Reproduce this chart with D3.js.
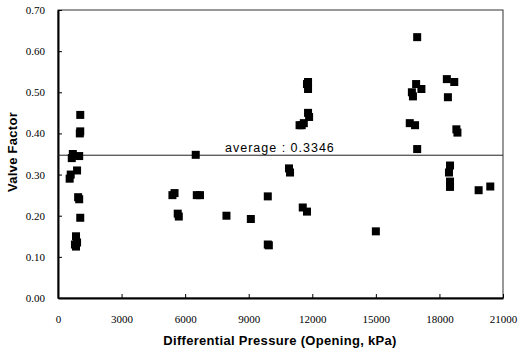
<!DOCTYPE html>
<html>
<head>
<meta charset="utf-8">
<script src="https://cdn.jsdelivr.net/npm/d3@7"></script>
<style>
  body { margin: 0; background: #fff; }
  svg { display: block; }
</style>
</head>
<body>
<div id="chart"></div>
<script>
// differential pressure (kPa) and valve factor
const pressure = [
    1050, 1050, 1030, 700, 650, 1000, 600, 550, 900, 950, 1000, 1050, 850, 900, 850, 800,
    5400, 5500, 5650, 5700, 6500, 6550, 6700, 7950, 9100, 9900, 9900, 9950,
    10900, 10950, 11500, 11600, 11400, 11550, 11750, 11800, 11850, 11800, 11750, 11800,
    15000,
    16600, 16850, 16950, 16700, 16750, 16900, 17150, 16950,
    18350, 18700, 18400, 18800, 18850, 18500, 18450, 18500, 18500, 19850, 20400
]
const valveFactor = [
    0.445, 0.405, 0.40, 0.35, 0.34, 0.345, 0.30, 0.29, 0.31, 0.245, 0.24, 0.195, 0.15, 0.135, 0.125, 0.13,
    0.25, 0.255, 0.205, 0.198, 0.348, 0.25, 0.25, 0.20, 0.192, 0.247, 0.13, 0.128,
    0.315, 0.305, 0.42, 0.425, 0.42, 0.22, 0.21, 0.45, 0.44, 0.525, 0.52, 0.508,
    0.162,
    0.425, 0.42, 0.634, 0.50, 0.49, 0.52, 0.508, 0.362,
    0.532, 0.525, 0.488, 0.41, 0.402, 0.322, 0.305, 0.283, 0.27, 0.262, 0.271
]
const xTicks = [0, 3000, 6000, 9000, 12000, 15000, 18000, 21000]
const yTicks = [0, 0.1, 0.2, 0.3, 0.4, 0.5, 0.6, 0.7]
const averageLine = 0.347
const averageLabel = "average : 0.3346"

const width = 518, height = 351
const margin = {top: 10, right: 15, bottom: 53, left: 58}

const svg = d3.select("#chart").append("svg")
    .attr("width", width)
    .attr("height", height)

const x = d3.scaleLinear().domain([0, 21000]).range([margin.left, width - margin.right])
const y = d3.scaleLinear().domain([0, 0.7]).range([height - margin.bottom, margin.top])

// frame (top and right thin)
svg.append("rect")
    .attr("x", x(0)).attr("y", y(0.7))
    .attr("width", x(21000) - x(0)).attr("height", y(0) - y(0.7))
    .attr("fill", "none").attr("stroke", "#333").attr("stroke-width", 1)

// x axis
const xAxis = svg.append("g")
    .attr("transform", `translate(0,${y(0)})`)
    .call(d3.axisBottom(x).tickValues(xTicks).tickFormat(d3.format("d")).tickSizeInner(-4).tickSizeOuter(0).tickPadding(17))
xAxis.select(".domain").attr("stroke", "#000").attr("stroke-width", 2)
xAxis.selectAll("text")
    .attr("font-family", "'Liberation Serif', 'Times New Roman', serif")
    .attr("font-size", 11).attr("fill", "#000")

// y axis
const yAxis = svg.append("g")
    .attr("transform", `translate(${x(0)},0)`)
    .call(d3.axisLeft(y).tickValues(yTicks).tickFormat(d3.format(".2f")).tickSizeInner(-4).tickSizeOuter(0).tickPadding(13))
yAxis.select(".domain").attr("stroke", "#000").attr("stroke-width", 2)
yAxis.selectAll("text")
    .attr("font-family", "'Liberation Serif', 'Times New Roman', serif")
    .attr("font-size", 11).attr("fill", "#000")

// average line
svg.append("line")
    .attr("x1", x(0)).attr("x2", x(21000))
    .attr("y1", y(averageLine)).attr("y2", y(averageLine))
    .attr("stroke", "#222").attr("stroke-width", 1)

svg.append("text")
    .attr("x", 225).attr("y", y(averageLine) - 3)
    .attr("font-family", "'Liberation Sans', Arial, sans-serif")
    .attr("font-size", 12.5)
    .attr("letter-spacing", 1)
    .text(averageLabel)

// points
const pts = pressure.map((p, i) => ({p: p, v: valveFactor[i]}))
const s = 8
svg.selectAll("rect.pt")
    .data(pts)
    .join("rect")
        .attr("class", "pt")
        .attr("x", d => x(d.p) - s / 2)
        .attr("y", d => y(d.v) - s / 2)
        .attr("width", s).attr("height", s)
        .attr("fill", "#000")

// axis titles
svg.append("text")
    .attr("x", 280).attr("y", 345)
    .attr("text-anchor", "middle")
    .attr("font-family", "'Liberation Sans', Arial, sans-serif")
    .attr("font-weight", "bold").attr("font-size", 13)
    .attr("letter-spacing", 0.3)
    .text("Differential Pressure (Opening, kPa)")

svg.append("text")
    .attr("transform", "translate(17,152) rotate(-90)")
    .attr("text-anchor", "middle")
    .attr("font-family", "'Liberation Sans', Arial, sans-serif")
    .attr("font-weight", "bold").attr("font-size", 13)
    .attr("letter-spacing", 0.3)
    .text("Valve Factor")
</script>
</body>
</html>
